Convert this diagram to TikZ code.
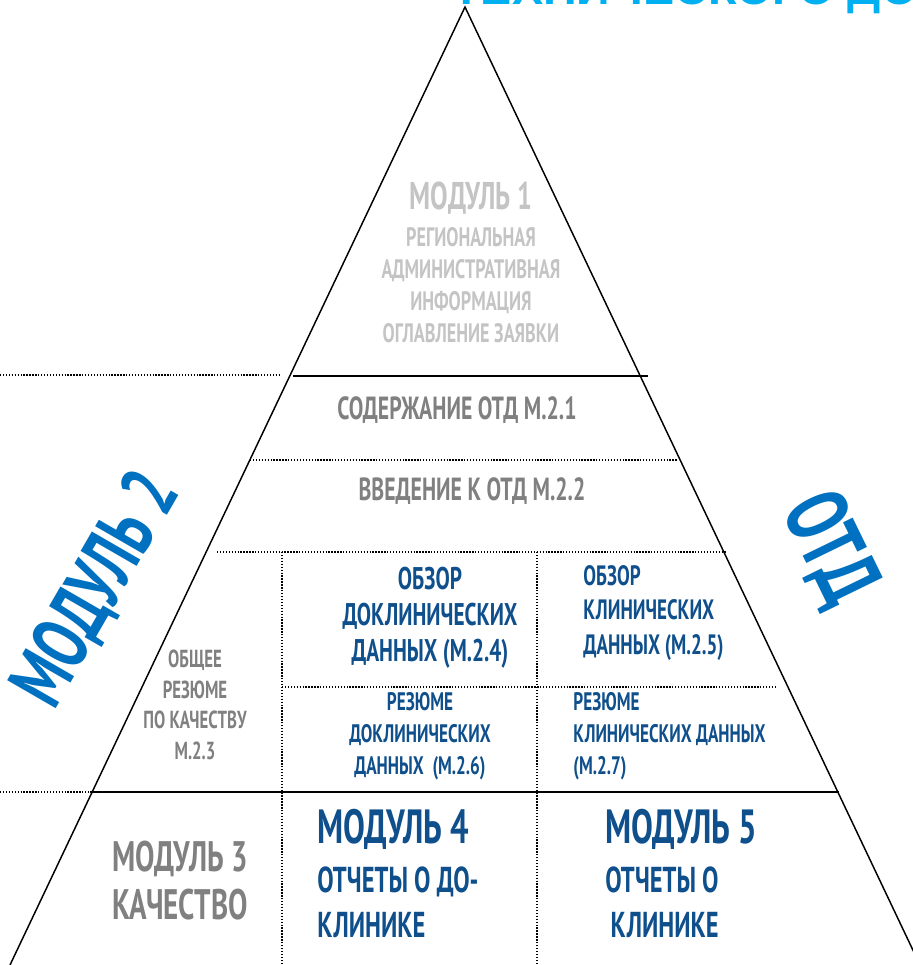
\documentclass[tikz,border=0pt]{standalone}
\usepackage{fontspec}
\setmainfont{PT Sans}[FakeStretch=0.68]
\newfontfamily\headfont{Liberation Sans}
\definecolor{lightgrey}{HTML}{C4C4C4}
\definecolor{midgrey}{HTML}{808080}
\definecolor{darkblue}{HTML}{0F4F8C}
\definecolor{brightblue}{HTML}{0070C0}
\definecolor{skyblue}{HTML}{00B0F0}
\newcommand{\fsz}[2]{\bfseries\fontsize{#1}{#2}\selectfont}
\tikzset{
  edgeline/.style={line width=1.1pt},
  sepline/.style={line width=1.5pt},
  dotline/.style={line width=1pt, dash pattern=on 1pt off 1.2pt},
  lbl/.style={inner sep=0pt, align=center},
  lbll/.style={inner sep=0pt, align=left, anchor=west},
}
\begin{document}
\begin{tikzpicture}[x=0.75pt,y=-0.75pt,semithick]
\useasboundingbox (0,0) rectangle (913,965);
\clip (0,0) rectangle (913,965);
% title cut by the page
\node[anchor=base west, inner sep=0pt, text=skyblue, font=\headfont\bfseries\fontsize{35}{35}\selectfont] (title) at (452,4) {ТЕХНИЧЕСКОГО ДОКУМЕНТА};
% pyramid
\coordinate (apex) at (465,7);
\coordinate (bl) at (10,965);
\coordinate (br) at (920,965);
\draw[edgeline] (bl) -- (apex) -- (br);
\draw[sepline] (293,376) -- (648,376);
\draw[dotline] (0,375) -- (280,375);
\draw[dotline] (250,460) -- (678,460);
\draw[dotline] (217,552) -- (727,552);
\draw[dotline] (282,552) -- (282,965);
\draw[dotline] (537,552) -- (537,965);
\draw[dotline] (282,687) -- (775,687);
\draw[dotline] (0,792) -- (90,792);
\draw[sepline] (90,792) -- (839,792);
% labels
\node[lbl, text=lightgrey, font=\fsz{29}{29}] (m1) at (471,198) {МОДУЛЬ 1};
\node[lbl, text=lightgrey, font=\fsz{20}{24}] (m1txt) at (471,285) {РЕГИОНАЛЬНАЯ\\АДМИНИСТРАТИВНАЯ\\ИНФОРМАЦИЯ\\ОГЛАВЛЕНИЕ ЗАЯВКИ};
\node[lbl, text=midgrey, font=\fsz{24}{24}] (m21) at (457,410) {СОДЕРЖАНИЕ ОТД М.2.1};
\node[lbl, text=midgrey, font=\fsz{24}{24}] (m22) at (472,491) {ВВЕДЕНИЕ К ОТД М.2.2};
\node[lbl, text=midgrey, font=\fsz{18.5}{23}] (m23) at (195,705) {ОБЩЕЕ\\РЕЗЮМЕ\\ПО КАЧЕСТВУ\\М.2.3};
\node[lbl, text=darkblue, font=\fsz{23.5}{27}] (m24) at (430,618) {ОБЗОР\\ДОКЛИНИЧЕСКИХ\\ДАННЫХ (М.2.4)};
\node[lbll, text=darkblue, font=\fsz{21}{26}] (m25) at (583,613) {ОБЗОР\\КЛИНИЧЕСКИХ\\ДАННЫХ (М.2.5)};
\node[lbl, text=darkblue, font=\fsz{19}{24}] (m26) at (420,736) {РЕЗЮМЕ\\ДОКЛИНИЧЕСКИХ\\ДАННЫХ\ \ (М.2.6)};
\node[lbll, text=darkblue, font=\fsz{19}{24}] (m27) at (573,736) {РЕЗЮМЕ\\КЛИНИЧЕСКИХ ДАННЫХ\\(М.2.7)};
\node[lbl, text=midgrey, font=\fsz{32}{36}] (m3) at (180,881) {МОДУЛЬ 3\\КАЧЕСТВО};
\node[lbll, text=darkblue, font=\fsz{36}{36}] (m4) at (317,829) {МОДУЛЬ 4};
\node[lbll, text=darkblue, font=\fsz{27}{34}] (m4txt) at (317,902) {ОТЧЕТЫ О ДО-\\КЛИНИКЕ};
\node[lbll, text=darkblue, font=\fsz{36}{36}] (m5) at (605,829) {МОДУЛЬ 5};
\node[lbll, text=darkblue, font=\fsz{27}{34}] (m5txt) at (605,902) {ОТЧЕТЫ О\\\hspace{4pt}КЛИНИКЕ};
\node[lbl, text=brightblue, font=\fsz{60}{60}, rotate=60] (m2) at (97,590) {МОДУЛЬ 2};
\node[lbl, text=brightblue, font=\fsz{66}{66}, rotate=-64] (otd) at (829,549) {ОТД};
\end{tikzpicture}
\end{document}
